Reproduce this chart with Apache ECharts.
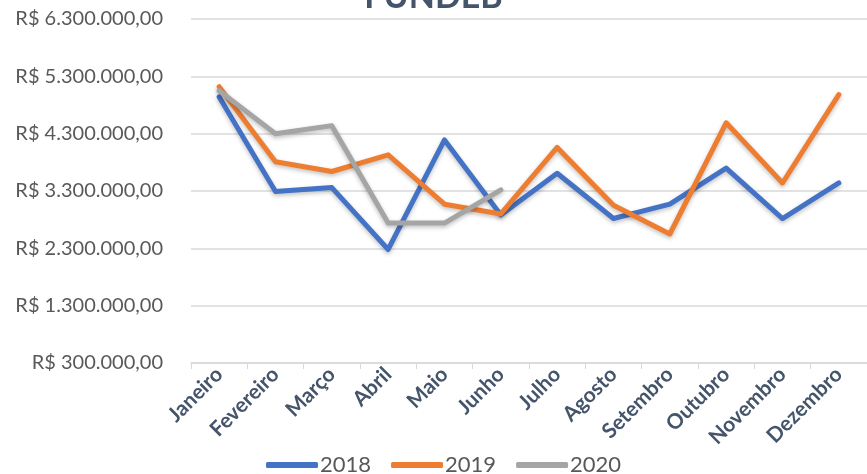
<!DOCTYPE html>
<html>
<head>
<meta charset="utf-8">
<script src="https://cdn.jsdelivr.net/npm/echarts@6/dist/echarts.min.js"></script>
<style>
  html, body { margin: 0; padding: 0; background: #fff; }
  #chart { width: 867px; height: 474px; }
</style>
</head>
<body>
<div id="chart"></div>
<script>
  // meses
  var months = ['Janeiro', 'Fevereiro', 'Março', 'Abril', 'Maio', 'Junho',
    'Julho', 'Agosto', 'Setembro', 'Outubro', 'Novembro', 'Dezembro']
  // valores (R$)
  var v2018 = [4940000, 3290000, 3360000, 2280000, 4190000, 2880000,
    3610000, 2820000, 3070000, 3700000, 2820000, 3440000]
  var v2019 = [5120000, 3810000, 3640000, 3930000, 3070000, 2900000,
    4060000, 3050000, 2550000, 4490000, 3440000, 4980000]
  var v2020 = [5050000, 4300000, 4440000, 2740000, 2740000, 3320000]
  // eixo y
  var yMin = 300000
  var yMax = 6300000
  var yStep = 1000000

  var labelFont = 'Lato, "Noto Sans", sans-serif'

  function brl (v) {
    var s = Math.round(v).toString().replace(/\B(?=(\d{3})+(?!\d))/g, '.')
    return 'R$ ' + s + ',00'
  }

  function lineSeries (name, data, color) {
    return {
      name: name,
      type: 'line',
      data: data,
      symbol: 'none',
      color: color,
      lineStyle: {
        width: 5,
        color: color,
        cap: 'round',
        join: 'round',
        shadowBlur: 4,
        shadowColor: 'rgba(0,0,0,0.25)',
        shadowOffsetY: 2
      }
    }
  }

  var chart = echarts.init(document.getElementById('chart'))
  chart.setOption({
    animation: false,
    title: {
      text: 'FUNDEB',
      left: 'center',
      top: -25,
      textStyle: { fontFamily: labelFont, fontSize: 34, fontWeight: 'bold', color: '#44546A' }
    },
    legend: {
      data: ['2018', '2019', '2020'],
      bottom: -7,
      left: 261,
      icon: 'roundRect',
      itemWidth: 52,
      itemHeight: 6,
      itemGap: 20,
      textStyle: { fontFamily: labelFont, fontSize: 22, color: '#595959', padding: [0, 0, 0, -3] }
    },
    grid: {
      left: 191,
      top: 19,
      width: 680,
      bottom: 111
    },
    xAxis: {
      type: 'category',
      data: months,
      boundaryGap: true,
      axisLine: { lineStyle: { color: '#D9D9D9', width: 1.5 } },
      axisTick: { show: true, length: 6, lineStyle: { color: '#D9D9D9' } },
      axisLabel: {
        rotate: 45,
        interval: 0,
        margin: 8,
        fontFamily: labelFont,
        fontSize: 21,
        fontWeight: 'bold',
        color: '#44546A'
      }
    },
    yAxis: {
      type: 'value',
      min: yMin,
      max: yMax,
      interval: yStep,
      axisLine: { show: false },
      axisTick: { show: false },
      splitLine: { lineStyle: { color: '#D9D9D9', width: 1.5 } },
      axisLabel: {
        margin: 28,
        fontFamily: labelFont,
        fontSize: 20,
        color: '#595959',
        formatter: brl
      }
    },
    series: [
      lineSeries('2018', v2018, '#4472C4'),
      lineSeries('2019', v2019, '#ED7D31'),
      lineSeries('2020', v2020, '#A5A5A5')
    ]
  })
</script>
</body>
</html>
